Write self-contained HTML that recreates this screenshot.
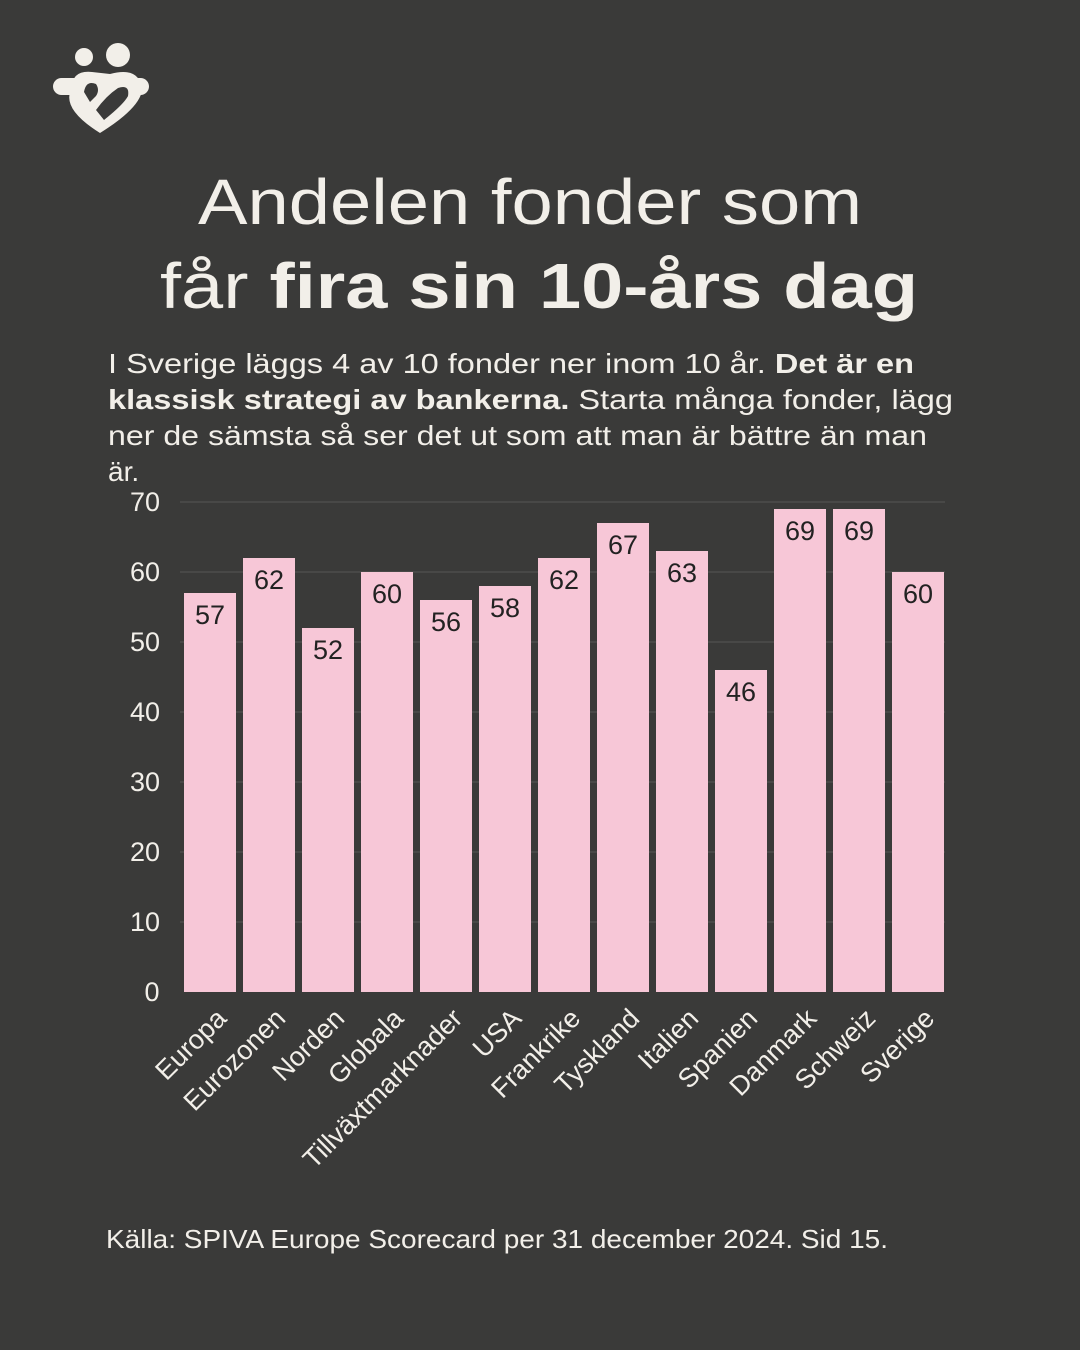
<!DOCTYPE html>
<html><head><meta charset="utf-8"><style>
body{margin:0;background:#3a3a39;width:1080px;height:1350px;overflow:hidden;font-family:"Liberation Sans","DejaVu Sans",sans-serif;color:#f2efe9}
</style></head><body>
<svg width="1080" height="1350" xmlns="http://www.w3.org/2000/svg" style="position:absolute;left:0;top:0">
<rect width="1080" height="1350" fill="#3a3a39"/>
<g fill="#f2efe9">
<circle cx="84" cy="57" r="9"/>
<circle cx="118" cy="55" r="12"/>
<rect x="53" y="78" width="96" height="17" rx="8.5"/>
<path d="M72 88 Q72 70 92 72 L110 74 Q140 66 142 90 Q140 108 100 133 Q60 108 72 88 Z"/>
</g>
<path d="M84 92 Q86 80 96 84 Q100 90 96 96 L90 102 Z" fill="#3a3a39"/>
<path d="M96 110 Q106 96 118 88 Q130 84 128 96 Q124 104 104 120 Z" fill="#3a3a39"/>
<text x="198" y="224" font-size="64" fill="#f2efe9" textLength="664" lengthAdjust="spacingAndGlyphs">Andelen fonder som</text>
<text x="160" y="308" font-size="64" fill="#f2efe9" textLength="758" lengthAdjust="spacingAndGlyphs">får <tspan font-weight="bold">fira sin 10-års dag</tspan></text>
<g font-size="28" fill="#f2efe9">
<text x="108" y="373" textLength="806" lengthAdjust="spacingAndGlyphs">I Sverige läggs 4 av 10 fonder ner inom 10 år. <tspan font-weight="bold">Det är en</tspan></text>
<text x="108" y="409" textLength="845" lengthAdjust="spacingAndGlyphs"><tspan font-weight="bold">klassisk strategi av bankerna.</tspan> Starta många fonder, lägg</text>
<text x="108" y="445" textLength="819" lengthAdjust="spacingAndGlyphs">ner de sämsta så ser det ut som att man är bättre än man</text>
<text x="108" y="481">är.</text>
</g>
<g stroke="#555" stroke-width="1">
<line x1="180" x2="945" y1="502" y2="502"/><line x1="180" x2="945" y1="572" y2="572"/>
<line x1="180" x2="945" y1="642" y2="642"/><line x1="180" x2="945" y1="712" y2="712"/>
<line x1="180" x2="945" y1="782" y2="782"/><line x1="180" x2="945" y1="852" y2="852"/>
<line x1="180" x2="945" y1="922" y2="922"/>
</g>
<g font-size="27" fill="#f2efe9" text-anchor="middle">
<text x="145" y="511">70</text><text x="145" y="581">60</text><text x="145" y="651">50</text>
<text x="145" y="721">40</text><text x="145" y="791">30</text><text x="145" y="861">20</text>
<text x="145" y="931">10</text><text x="152" y="1001">0</text>
</g>
<g fill="#f7c7d7">
<rect x="184" y="593" width="52" height="399"/>
<rect x="243" y="558" width="52" height="434"/>
<rect x="302" y="628" width="52" height="364"/>
<rect x="361" y="572" width="52" height="420"/>
<rect x="420" y="600" width="52" height="392"/>
<rect x="479" y="586" width="52" height="406"/>
<rect x="538" y="558" width="52" height="434"/>
<rect x="597" y="523" width="52" height="469"/>
<rect x="656" y="551" width="52" height="441"/>
<rect x="715" y="670" width="52" height="322"/>
<rect x="774" y="509" width="52" height="483"/>
<rect x="833" y="509" width="52" height="483"/>
<rect x="892" y="572" width="52" height="420"/>
</g>
<g font-size="27" fill="#222" text-anchor="middle">
<text x="210" y="624">57</text><text x="269" y="589">62</text><text x="328" y="659">52</text>
<text x="387" y="603">60</text><text x="446" y="631">56</text><text x="505" y="617">58</text>
<text x="564" y="589">62</text><text x="623" y="554">67</text><text x="682" y="582">63</text>
<text x="741" y="701">46</text><text x="800" y="540">69</text><text x="859" y="540">69</text>
<text x="918" y="603">60</text>
</g>
<g font-size="27" fill="#f2efe9" text-anchor="end">
<text transform="translate(228,1020) rotate(-45)">Europa</text>
<text transform="translate(287,1020) rotate(-45)">Eurozonen</text>
<text transform="translate(346,1020) rotate(-45)">Norden</text>
<text transform="translate(405,1020) rotate(-45)">Globala</text>
<text transform="translate(464,1020) rotate(-45)">Tillväxtmarknader</text>
<text transform="translate(523,1020) rotate(-45)">USA</text>
<text transform="translate(582,1020) rotate(-45)">Frankrike</text>
<text transform="translate(641,1020) rotate(-45)">Tyskland</text>
<text transform="translate(700,1020) rotate(-45)">Italien</text>
<text transform="translate(759,1020) rotate(-45)">Spanien</text>
<text transform="translate(818,1020) rotate(-45)">Danmark</text>
<text transform="translate(877,1020) rotate(-45)">Schweiz</text>
<text transform="translate(936,1020) rotate(-45)">Sverige</text>
</g>
<text x="106" y="1248" font-size="26" fill="#f2efe9" textLength="782" lengthAdjust="spacingAndGlyphs">Källa: SPIVA Europe Scorecard per 31 december 2024. Sid 15.</text>
</svg>
</body></html>
